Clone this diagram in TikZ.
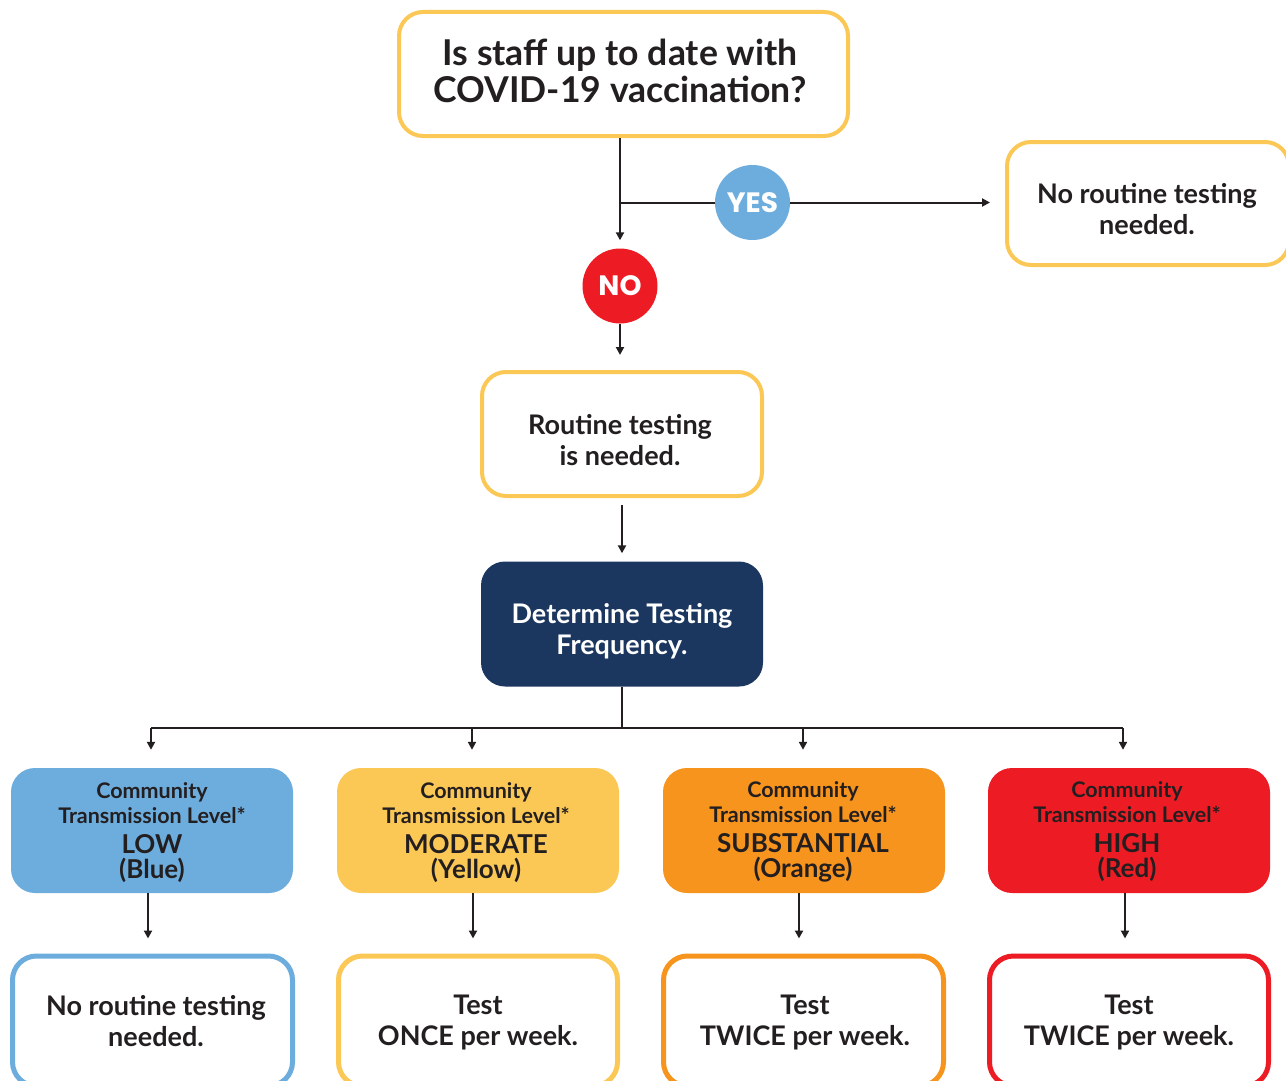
\documentclass[tikz,border=0pt]{standalone}
\usepackage{fontspec}
\setmainfont{Lato}
\newfontfamily\popfont{Poppins}
\usetikzlibrary{arrows.meta,calc}
\definecolor{cyel}{HTML}{FCC855}
\definecolor{cblue}{HTML}{6DADDE}
\definecolor{corange}{HTML}{F7941E}
\definecolor{cred}{HTML}{ED1C24}
\definecolor{cnavy}{HTML}{1C375F}
\definecolor{ctext}{HTML}{231F20}
\tikzset{
  arr/.style={draw=ctext, line width=2pt, -{Triangle[length=8pt,width=8pt]}},
  ln/.style={draw=ctext, line width=2pt},
  outbox/.style={draw=#1, line width=4pt, rounded corners=24pt, fill=white,
    inner sep=0pt},
  bigbox/.style={outbox=#1, line width=5pt},
  txt/.style={align=center, text=ctext, inner sep=0pt,
    font=\fontsize{27}{31}\selectfont\bfseries},
  lvl/.style={fill=#1, rounded corners=24pt, minimum width=282pt,
    minimum height=125pt, inner sep=0pt},
  lvltxt/.style={align=center, text=ctext, inner sep=0pt,
    font=\fontsize{21.5}{25}\selectfont\bfseries},
  circ/.style={circle, fill=#1, minimum size=75pt, inner sep=0pt, text=white,
    font=\popfont\fontsize{28}{28}\selectfont\bfseries},
}
\newcommand{\bigword}{\fontsize{26}{26}\selectfont}
\begin{document}
\begin{tikzpicture}[x=1pt,y=-1pt]
\clip (0,0) rectangle (1286,1081);
\fill[white] (0,0) rectangle (1286,1081);
% top question
\node[outbox=cyel, minimum width=449pt, minimum height=124pt] (q) at (623.5,74) {};
\node[txt, font=\fontsize{35.6}{37}\selectfont\bfseries] (qt) at (620,71)
  {Is staff up to date with\\COVID-19 vaccination?};
\node[circ=cblue] (yes) at (752.5,202.5) {YES};
\node[circ=cred] (no) at (620,286) {NO};
\node[outbox=cyel, minimum width=282pt, minimum height=123pt] (nrt) at (1148,203.5) {};
\node[txt] (nrtt) at (1147,209.5) {No routine testing\\needed.};
\node[outbox=cyel, minimum width=280pt, minimum height=124pt] (rt) at (622,434) {};
\node[txt] (rtt) at (620,440) {Routine testing\\is needed.};
\node[lvl=cnavy] (det) at (622,624) {};
\node[txt, text=white] (dett) at (622,631) {Determine Testing\\Frequency.};
% levels
\node[lvl=cblue] (l1) at (152,830.5) {};
\node[lvl=cyel] (l2) at (478,830.5) {};
\node[lvl=corange] (l3) at (804,830.5) {};
\node[lvl=cred] (l4) at (1129,830.5) {};
\node[lvltxt] (l1t) at (152,832.5)
  {Community\\[0pt]Transmission Level*\\[5pt]\bigword LOW\\[0pt]\bigword (Blue)};
\node[lvltxt] (l2t) at (476,832.5)
  {Community\\[0pt]Transmission Level*\\[5pt]\bigword MODERATE\\[0pt]\bigword (Yellow)};
\node[lvltxt] (l3t) at (803,831.5)
  {Community\\[0pt]Transmission Level*\\[5pt]\bigword SUBSTANTIAL\\[0pt]\bigword (Orange)};
\node[lvltxt] (l4t) at (1127,831.5)
  {Community\\[0pt]Transmission Level*\\[5pt]\bigword HIGH\\[0pt]\bigword (Red)};
% results
\node[bigbox=cblue, minimum width=280pt, minimum height=130pt] (b1) at (152.5,1021) {};
\node[bigbox=cyel, minimum width=279pt, minimum height=130pt] (b2) at (478,1021) {};
\node[bigbox=corange, minimum width=280pt, minimum height=130pt] (b3) at (803.5,1021) {};
\node[bigbox=cred, minimum width=279pt, minimum height=130pt] (b4) at (1129,1021) {};
\node[txt] (b1t) at (156,1021) {No routine testing\\needed.};
\node[txt] (b2t) at (478,1022) {Test\\ONCE per week.};
\node[txt] (b3t) at (805,1022) {Test\\TWICE per week.};
\node[txt] (b4t) at (1129,1022) {Test\\TWICE per week.};
% connectors
\draw[arr] (no |- q.south) -- ([yshift=8pt]no.north);
\draw[ln] (no |- yes) -- (yes.west);
\draw[arr] (yes.east) -- ([xshift=-15pt]nrt.west |- yes);
\draw[arr] (no.south) -- ([yshift=15pt]no |- rt.north);
\draw[arr] ([yshift=-7pt]rt.south) -- ([yshift=8pt]rt |- det.north);
\coordinate (bus) at (622,728);
\draw[ln] (det.south) -- (bus);
\draw[ln] ($(bus -| l1)+(-1,0)$) -- ($(bus -| l4)+(-6,0)$);
\foreach \n/\dx in {l1/-1,l2/-6,l3/-1,l4/-6}{
  \draw[arr] ($(bus -| \n)+(\dx,0)$) -- ($(\n.north)+(\dx,-18)$);
}
\foreach \n/\m/\dx in {l1/b1/-4,l2/b2/-5,l3/b3/-5,l4/b4/-4}{
  \draw[arr] ($(\n.south)+(\dx,0)$) -- ($(\n.south |- \m.north)+(\dx,-15)$);
}
\end{tikzpicture}
\end{document}
